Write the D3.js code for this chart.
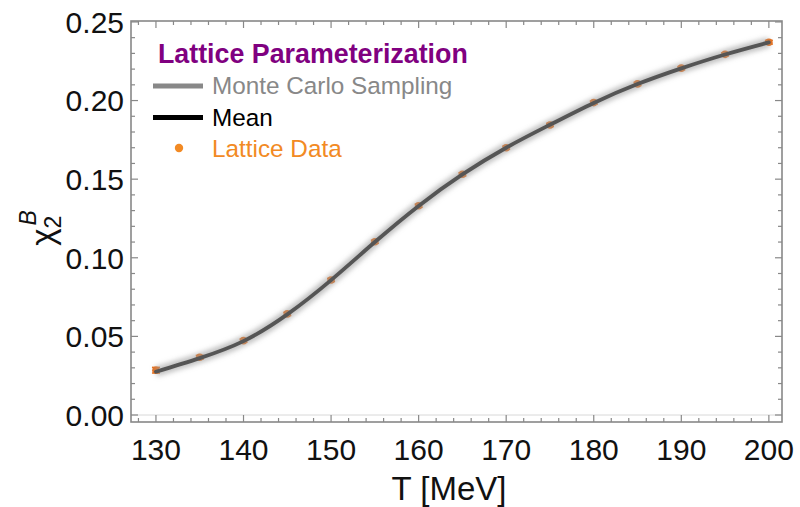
<!DOCTYPE html>
<html>
<head>
<meta charset="utf-8">
<script src="https://cdn.jsdelivr.net/npm/d3@7"></script>
<style>
    body { margin: 0; background: #fff; }
    text { font-family: "Liberation Sans", Arial, sans-serif; }
</style>
</head>
<body>
<div id="chart"></div>
<script>
// temperatures [MeV]
const temps = [130, 135, 140, 145, 150, 155, 160, 165, 170, 175, 180, 185, 190, 195, 200];
// lattice chi2B values
const latticeValues = [0.0285, 0.0367, 0.0473, 0.0643, 0.0859, 0.1102, 0.1331, 0.1531, 0.1700, 0.1845, 0.1987, 0.2106, 0.2206, 0.2294, 0.2371];
const latticeErrors = [0.0018, 0.0012, 0.0010, 0.0010, 0.0010, 0.0010, 0.0010, 0.0010, 0.0010, 0.0010, 0.0010, 0.0010, 0.0010, 0.0010, 0.0012];
// mean of the parameterization
const meanValues = [0.0275, 0.0362, 0.0470, 0.0640, 0.0858, 0.1100, 0.1330, 0.1530, 0.1700, 0.1846, 0.1985, 0.2105, 0.2205, 0.2293, 0.2370];

const xTicks = [130, 140, 150, 160, 170, 180, 190, 200];
const yTicks = [0.00, 0.05, 0.10, 0.15, 0.20, 0.25];

const legendItems = [
    {label: "Monte Carlo Sampling", color: "#888888", type: "line"},
    {label: "Mean", color: "#000000", type: "line"},
    {label: "Lattice Data", color: "#f28a24", type: "dot"}
];

const W = 800, H = 507;
const frame = {left: 131, right: 782, top: 21, bottom: 422};

const svg = d3.select("#chart").append("svg")
    .attr("width", W)
    .attr("height", H);

const x = d3.scaleLinear().domain([127.15, 201.5]).range([frame.left, frame.right]);
const y = d3.scaleLinear().domain([-0.00445, 0.2506]).range([frame.bottom, frame.top]);

// blur for the sampling band
svg.append("defs").append("filter")
    .attr("id", "blur")
    .attr("x", "-10%").attr("y", "-10%")
    .attr("width", "120%").attr("height", "120%")
    .append("feGaussianBlur")
    .attr("stdDeviation", 2.6);

// faint zero line
svg.append("line")
    .attr("x1", frame.left).attr("x2", frame.right)
    .attr("y1", y(0)).attr("y2", y(0))
    .attr("stroke", "#d8d8d8").attr("stroke-width", 1);

// lattice points with error bars (under the curve)
let pts = svg.append("g").attr("class", "lattice");
temps.forEach((t, i) => {
    let cx = x(t);
    pts.append("line")
        .attr("x1", cx).attr("x2", cx)
        .attr("y1", y(latticeValues[i] - latticeErrors[i]))
        .attr("y2", y(latticeValues[i] + latticeErrors[i]))
        .attr("stroke", "#e8701c").attr("stroke-width", 1.5);
    [latticeValues[i] - latticeErrors[i], latticeValues[i] + latticeErrors[i]].forEach(v => {
        pts.append("line")
            .attr("x1", cx - 4).attr("x2", cx + 4)
            .attr("y1", y(v)).attr("y2", y(v))
            .attr("stroke", "#e8701c").attr("stroke-width", 1.5);
    });
    pts.append("circle")
        .attr("cx", cx).attr("cy", y(latticeValues[i]))
        .attr("r", 3.8)
        .attr("fill", "#e8701c");
});

const line = d3.line()
    .x((d, i) => x(temps[i]))
    .y(d => y(d))
    .curve(d3.curveNatural);

// monte carlo band
svg.append("path")
    .datum(meanValues)
    .attr("d", line)
    .attr("fill", "none")
    .attr("stroke", "#999999")
    .attr("stroke-opacity", 0.6)
    .attr("stroke-width", 10)
    .attr("filter", "url(#blur)");

// mean curve
svg.append("path")
    .datum(meanValues)
    .attr("d", line)
    .attr("fill", "none")
    .attr("stroke", "#555555")
    .attr("stroke-width", 3.8)
    .attr("stroke-linecap", "round");

// frame
svg.append("rect")
    .attr("x", frame.left).attr("y", frame.top)
    .attr("width", frame.right - frame.left)
    .attr("height", frame.bottom - frame.top)
    .attr("fill", "none")
    .attr("stroke", "#888888")
    .attr("stroke-width", 1.6);

// ticks, inward on all four sides
const ticksG = svg.append("g").attr("stroke", "#888888").attr("stroke-width", 1.2);
d3.range(128, 201.5, 2).forEach(t => {
    let major = xTicks.includes(t);
    let len = major ? 7 : 4;
    ticksG.append("line").attr("x1", x(t)).attr("x2", x(t))
        .attr("y1", frame.bottom).attr("y2", frame.bottom - len);
    ticksG.append("line").attr("x1", x(t)).attr("x2", x(t))
        .attr("y1", frame.top).attr("y2", frame.top + len);
});
d3.range(0, 26).forEach(k => {
    let v = k / 100;
    let major = k % 5 === 0;
    let len = major ? 7 : 4;
    ticksG.append("line").attr("x1", frame.left).attr("x2", frame.left + len)
        .attr("y1", y(v)).attr("y2", y(v));
    ticksG.append("line").attr("x1", frame.right).attr("x2", frame.right - len)
        .attr("y1", y(v)).attr("y2", y(v));
});

// tick labels
svg.append("g").selectAll("text")
    .data(xTicks)
    .enter().append("text")
    .attr("x", d => x(d))
    .attr("y", 460)
    .attr("text-anchor", "middle")
    .attr("font-size", 30)
    .attr("fill", "#111")
    .text(d => d);

svg.append("g").selectAll("text")
    .data(yTicks)
    .enter().append("text")
    .attr("x", 124)
    .attr("y", d => y(d))
    .attr("dy", "0.36em")
    .attr("text-anchor", "end")
    .attr("font-size", 30)
    .attr("fill", "#111")
    .text(d => d.toFixed(2));

// axis titles
svg.append("text")
    .attr("x", 449)
    .attr("y", 500)
    .attr("text-anchor", "middle")
    .attr("font-size", 33)
    .attr("fill", "#111")
    .text("T [MeV]");

let yl = svg.append("text")
    .attr("transform", "translate(54,228) rotate(-90)")
    .attr("text-anchor", "middle")
    .attr("font-size", 33)
    .attr("fill", "#111");
yl.append("tspan").text("χ");
yl.append("tspan").attr("font-size", 23).attr("dy", 7).text("2");
yl.append("tspan").attr("font-size", 23).attr("font-style", "italic").attr("dx", -10).attr("dy", -25).text("B");

// legend
svg.append("text")
    .attr("x", 158)
    .attr("y", 63)
    .attr("font-size", 26.8)
    .attr("font-weight", "bold")
    .attr("fill", "#800080")
    .text("Lattice Parameterization");

let leg = svg.append("g").attr("class", "legend");
legendItems.forEach((d, i) => {
    let ly = 86 + i * 31.5;
    if (d.type === "line") {
        leg.append("line")
            .attr("x1", 153).attr("x2", 203)
            .attr("y1", ly).attr("y2", ly)
            .attr("stroke", d.color).attr("stroke-width", 5);
    } else {
        leg.append("circle")
            .attr("cx", 179).attr("cy", ly - 1)
            .attr("r", 4.2)
            .attr("fill", d.color);
    }
    leg.append("text")
        .attr("x", 212)
        .attr("y", ly + 8)
        .attr("font-size", 24.3)
        .attr("fill", d.color)
        .text(d.label);
});
</script>
</body>
</html>
